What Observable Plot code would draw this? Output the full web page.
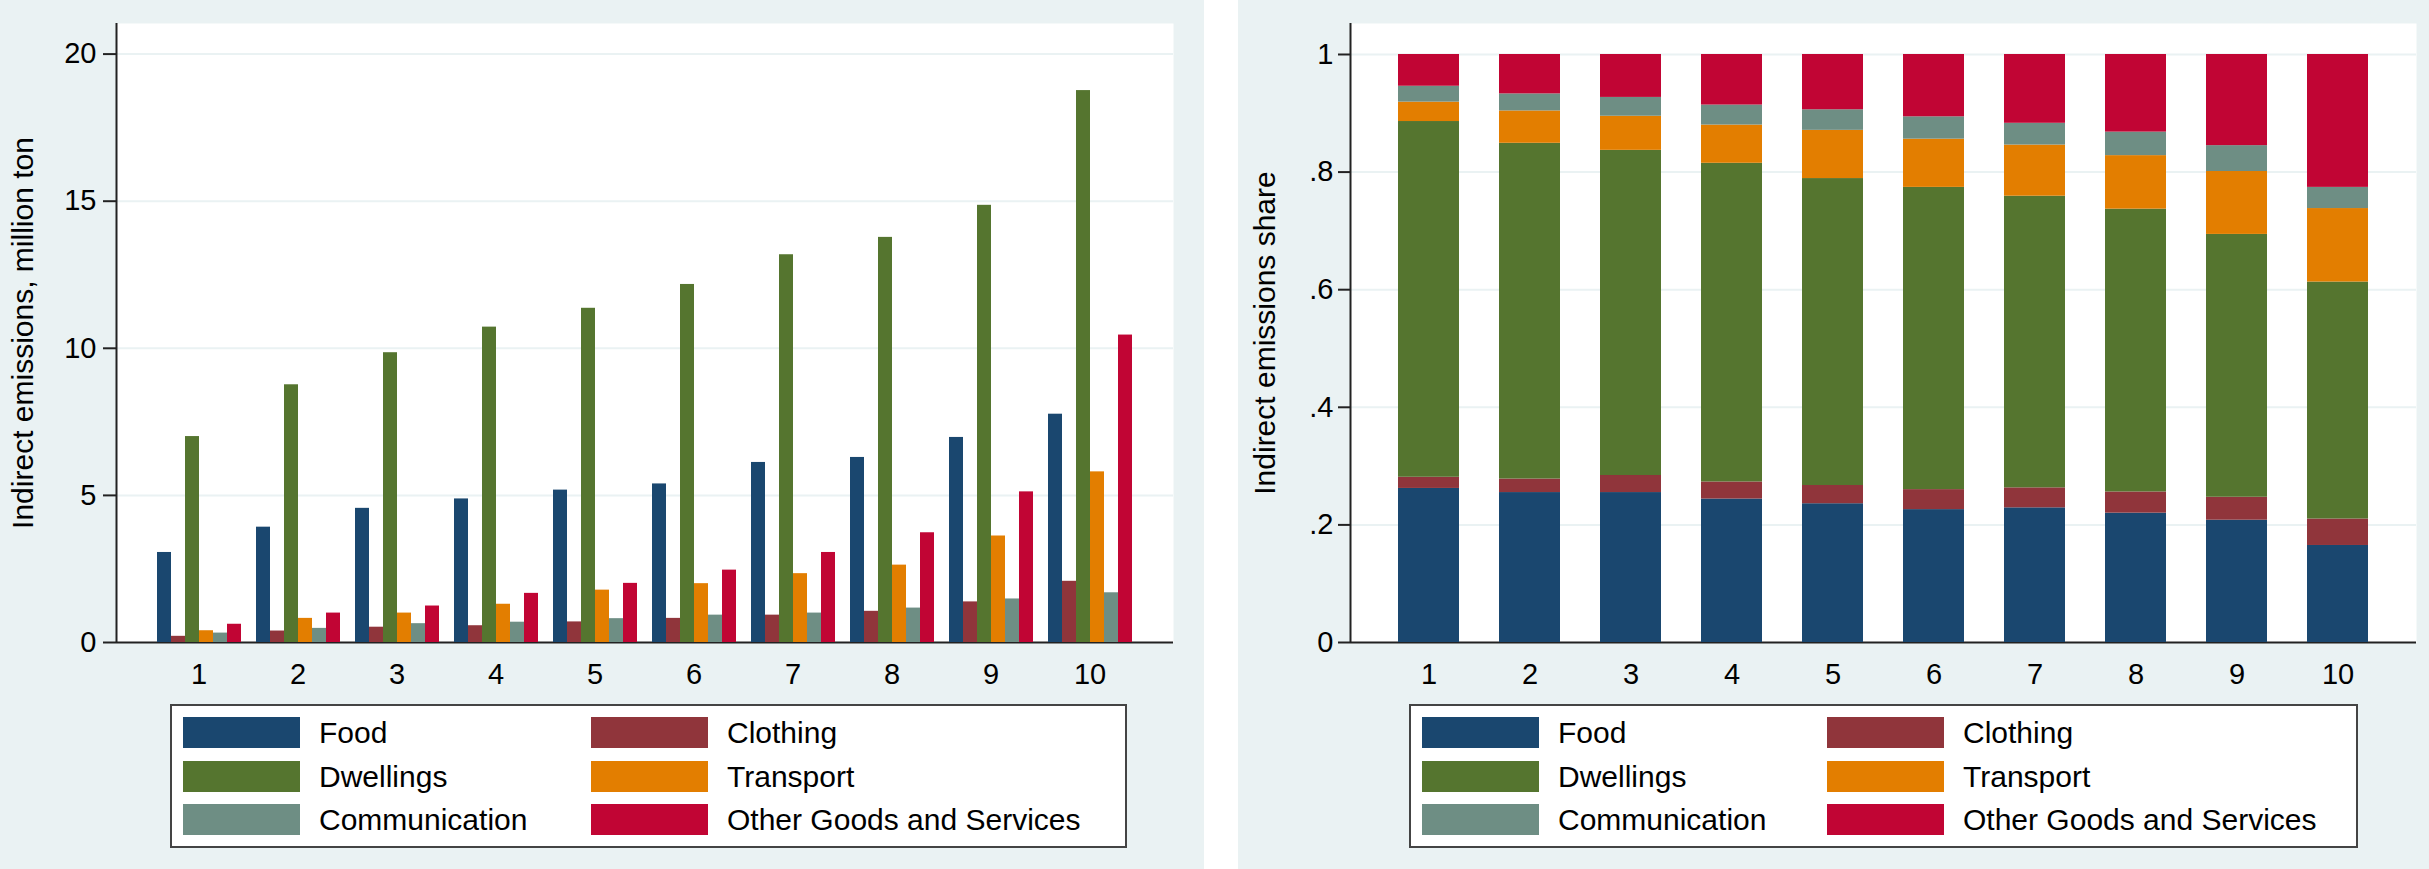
<!DOCTYPE html>
<html><head><meta charset="utf-8">
<script src="https://cdn.jsdelivr.net/npm/d3@7"></script>
<script src="https://cdn.jsdelivr.net/npm/@observablehq/plot@0.6"></script>
<style>
html,body{margin:0;padding:0;background:#fff;}
body{width:2429px;height:869px;position:relative;overflow:hidden;font-family:'Liberation Sans',Arial,sans-serif;}
.panel{position:absolute;top:0;height:869px;background:#eaf2f3;}
.panel svg{position:absolute;left:0;top:0;}
.legend{position:absolute;top:704px;height:144px;box-sizing:border-box;border:2px solid #444;background:#fff;}
.sw{position:absolute;width:117px;height:31px;}
.lt{position:absolute;height:31px;line-height:31px;font-size:30px;color:#000;white-space:nowrap;}
svg [aria-label^="y-axis"] line, svg [aria-label^="y-axis"] path{stroke-width:2px;stroke:#222;}
</style>
</head><body>
<div id="left" class="panel" style="left:0;width:1204px"></div>
<div id="right" class="panel" style="left:1238px;width:1191px"></div>
<script>
const deciles = [1,2,3,4,5,6,7,8,9,10];
const categories = ["Food","Clothing","Dwellings","Transport","Communication","Other Goods and Services"];
const colors = ["#1a476f","#90353b","#55752f","#e37e00","#6e8e84","#c10534"];

// Indirect emissions, million ton (left panel)
const foodMt      = [3.06, 3.92, 4.56, 4.88, 5.18, 5.39, 6.12, 6.29, 6.97, 7.76];
const clothingMt  = [0.21, 0.39, 0.52, 0.57, 0.70, 0.82, 0.93, 1.06, 1.38, 2.08];
const dwellingsMt = [7.00, 8.76, 9.85, 10.72, 11.36, 12.17, 13.18, 13.77, 14.86, 18.76];
const transportMt = [0.40, 0.82, 1.00, 1.30, 1.78, 2.00, 2.34, 2.63, 3.62, 5.80];
const commMt      = [0.32, 0.48, 0.64, 0.69, 0.81, 0.93, 1.00, 1.17, 1.48, 1.69];
const otherMt     = [0.62, 1.00, 1.24, 1.67, 2.01, 2.46, 3.06, 3.73, 5.12, 10.45];

// Indirect emissions share (right panel)
const foodSh      = [0.262, 0.255, 0.255, 0.244, 0.236, 0.226, 0.229, 0.220, 0.208, 0.165];
const clothingSh  = [0.019, 0.023, 0.029, 0.029, 0.031, 0.034, 0.034, 0.036, 0.039, 0.045];
const dwellingsSh = [0.605, 0.571, 0.553, 0.542, 0.522, 0.514, 0.496, 0.481, 0.447, 0.403];
const transportSh = [0.033, 0.055, 0.058, 0.065, 0.082, 0.082, 0.087, 0.091, 0.107, 0.125];
const commSh      = [0.027, 0.029, 0.032, 0.034, 0.035, 0.038, 0.037, 0.040, 0.044, 0.036];
const otherSh     = [0.054, 0.067, 0.073, 0.086, 0.094, 0.106, 0.117, 0.132, 0.155, 0.226];

const leftTicks = [0, 5, 10, 15, 20];
const leftTickLabels = ["0", "5", "10", "15", "20"];
const rightTicks = [0, 0.2, 0.4, 0.6, 0.8, 1];
const rightTickLabels = ["0", ".2", ".4", ".6", ".8", "1"];
const leftTitle = "Indirect emissions, million ton";
const rightTitle = "Indirect emissions share";

const mtSeries = [foodMt, clothingMt, dwellingsMt, transportMt, commMt, otherMt];
const shSeries = [foodSh, clothingSh, dwellingsSh, transportSh, commSh, otherSh];
const leftData = deciles.flatMap((d, i) => categories.map((c, j) => ({decile: d, cat: c, value: mtSeries[j][i]})));
const rightData = deciles.flatMap((d, i) => categories.map((c, j) => ({decile: d, cat: c, share: shSeries[j][i]})));

const FONT = "'Liberation Sans', Arial, sans-serif";
const H = 690, MT = 23, MB = 48;
const baseStyle = {fontFamily: FONT, fontSize: "29px", color: "#000", background: "transparent", overflow: "visible"};

function background(o) {
  return Plot.plot({
    width: o.width, height: H, marginLeft: o.ml, marginRight: o.mr, marginTop: MT, marginBottom: MB,
    style: baseStyle,
    x: {domain: [0, 1], axis: null},
    y: {domain: o.yDomain, ticks: o.ticks, tickFormat: d => o.labels[o.ticks.indexOf(d)],
        tickSize: o.tickSize, tickPadding: o.tickPadding, label: null, axis: "left"},
    marks: [
      Plot.frame({fill: "white", stroke: "none"}),
      Plot.ruleY(o.ticks.filter(t => t > 0), {stroke: "#eaf2f3", strokeWidth: 2}),
      Plot.ruleY([0], {stroke: "#222", strokeWidth: 2}),
      Plot.ruleX([0], {stroke: "#222", strokeWidth: 2}),
      Plot.text([o.title], {text: d => d, frameAnchor: "left", textAnchor: "middle", lineAnchor: "middle",
        dx: o.titleDx, rotate: -90, fontSize: 30, fill: "#000"})
    ]
  });
}

function legend(parent, cfg) {
  const box = document.createElement("div");
  box.className = "legend";
  box.style.left = cfg.left + "px";
  box.style.width = cfg.width + "px";
  categories.forEach((c, i) => {
    const row = Math.floor(i / 2), col = i % 2;
    const x = 11 + col * cfg.col2, y = 11 + row * 43.5;
    const sw = document.createElement("div");
    sw.className = "sw"; sw.style.left = x + "px"; sw.style.top = y + "px"; sw.style.background = colors[i];
    const t = document.createElement("div");
    t.className = "lt"; t.style.left = (x + 136) + "px"; t.style.top = y + "px"; t.textContent = c;
    box.appendChild(sw); box.appendChild(t);
  });
  parent.appendChild(box);
}

// LEFT PANEL
const leftEl = document.getElementById("left");
const lYDomain = [0, 21.04];
leftEl.appendChild(background({width: 1204, ml: 116, mr: 31, yDomain: lYDomain, ticks: leftTicks, labels: leftTickLabels,
  tickSize: 13, tickPadding: 7, title: leftTitle, titleDx: -93}));
leftEl.appendChild(Plot.plot({
  width: 1204, height: H, marginLeft: 116, marginRight: 31, marginTop: MT, marginBottom: MB,
  style: baseStyle,
  facet: {data: leftData, x: "decile"},
  fx: {domain: deciles, paddingInner: 0.097, paddingOuter: 0.348, axis: "bottom", tickSize: 0, tickPadding: 21, label: null},
  x: {domain: categories, padding: 0, axis: null},
  y: {domain: lYDomain, axis: null},
  color: {domain: categories, range: colors},
  marks: [Plot.barY(leftData, {x: "cat", y: "value", fill: "cat"})]
}));
legend(leftEl, {left: 170, width: 957, col2: 408});

// RIGHT PANEL
const rightEl = document.getElementById("right");
const rYDomain = [0, 1.0527];
rightEl.appendChild(background({width: 1191, ml: 112, mr: 13, yDomain: rYDomain, ticks: rightTicks, labels: rightTickLabels,
  tickSize: 12, tickPadding: 5, title: rightTitle, titleDx: -85}));
rightEl.appendChild(Plot.plot({
  width: 1191, height: H, marginLeft: 112, marginRight: 13, marginTop: MT, marginBottom: MB,
  style: baseStyle,
  x: {domain: deciles, paddingInner: 0.4, paddingOuter: 0.435, axis: "bottom", tickSize: 0, tickPadding: 21, label: null},
  y: {domain: rYDomain, axis: null},
  color: {domain: categories, range: colors},
  marks: [Plot.barY(rightData, {x: "decile", y: "share", fill: "cat"})]
}));
legend(rightEl, {left: 171, width: 949, col2: 405});
</script>
</body></html>
